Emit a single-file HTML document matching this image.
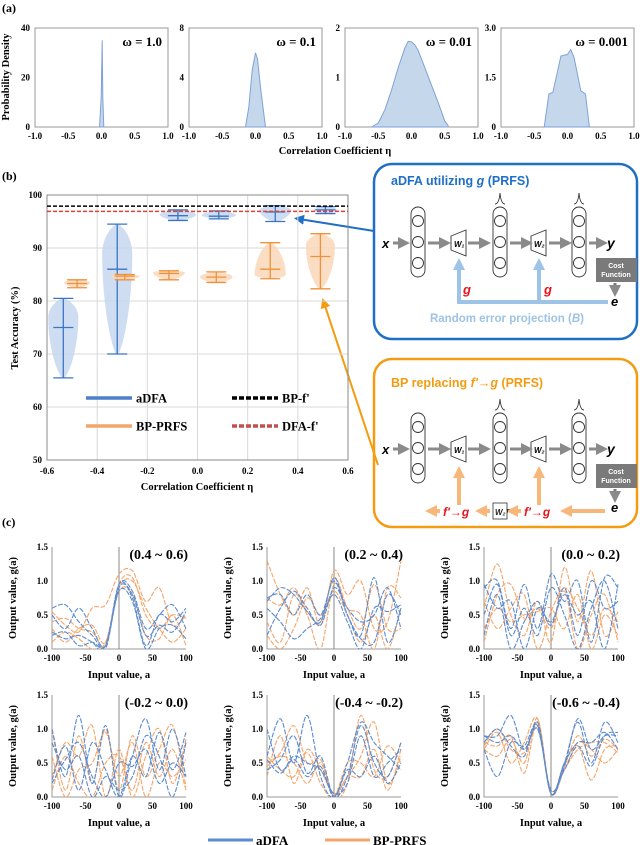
<!DOCTYPE html>
<html><head><meta charset="utf-8"><style>
html,body{margin:0;padding:0;background:#fff;}
svg{display:block;}
.serif{font-family:"Liberation Serif",serif;font-weight:bold;}
.sans{font-family:"Liberation Sans",sans-serif;font-weight:bold;}
</style></head><body>
<svg id="fig" width="640" height="845" viewBox="0 0 640 845" xmlns="http://www.w3.org/2000/svg">
<defs>
<marker id="ah-gray" markerWidth="4" markerHeight="4" refX="2" refY="2" orient="auto" markerUnits="strokeWidth"><path d="M0,0 L4,2 L0,4 z" fill="#8a8a8a"/></marker>
<marker id="ah-lblue" markerWidth="3" markerHeight="3" refX="1.5" refY="1.5" orient="auto" markerUnits="strokeWidth"><path d="M0,0 L3,1.5 L0,3 z" fill="#9dc3e6"/></marker>
<marker id="ah-lor" markerWidth="3" markerHeight="3" refX="1.5" refY="1.5" orient="auto" markerUnits="strokeWidth"><path d="M0,0 L3,1.5 L0,3 z" fill="#f8b77a"/></marker>
<marker id="ah-blue" markerWidth="5" markerHeight="5" refX="4" refY="2.5" orient="auto" markerUnits="strokeWidth"><path d="M0,0 L5,2.5 L0,5 z" fill="#1f6fc5"/></marker>
<marker id="ah-or" markerWidth="5" markerHeight="5" refX="4" refY="2.5" orient="auto" markerUnits="strokeWidth"><path d="M0,0 L5,2.5 L0,5 z" fill="#f39c12"/></marker>
</defs>
<g class="serif" font-size="12">
<text x="2" y="12">(a)</text>
<text x="2" y="180">(b)</text>
<text x="2" y="526">(c)</text>
</g>

<g>
<rect x="374" y="164" width="263" height="175" rx="18" fill="none" stroke="#1f6fc5" stroke-width="2.5"/>
<text x="391" y="185" class="sans" font-size="12.5" fill="#1f6fc5">aDFA utilizing <tspan font-style="italic">g</tspan> (PRFS)</text>
<g id="netA"></g>
<polyline points="608,302 459,302 459,264" fill="none" stroke="#9dc3e6" stroke-width="4" marker-end="url(#ah-lblue)"/>
<line x1="539" y1="302" x2="539" y2="264" stroke="#9dc3e6" stroke-width="4" marker-end="url(#ah-lblue)"/>
<text x="463" y="294" class="sans" font-style="italic" font-size="13" fill="#e8141c">g</text>
<text x="544" y="294" class="sans" font-style="italic" font-size="13" fill="#e8141c">g</text>
<text x="507" y="322" text-anchor="middle" class="sans" font-size="11.5" fill="#9dc3e6">Random error projection (<tspan font-style="italic">B</tspan>)</text>
</g>
<g>
<rect x="374" y="359" width="263" height="168" rx="18" fill="none" stroke="#f39c12" stroke-width="2.5"/>
<text x="391" y="387" class="sans" font-size="12.5" fill="#f39c12">BP replacing <tspan font-style="italic">f'</tspan>→<tspan font-style="italic">g</tspan> (PRFS)</text>
<g id="netB"></g>
<line x1="459" y1="505" x2="459" y2="472" stroke="#f8b77a" stroke-width="4" marker-end="url(#ah-lor)"/>
<line x1="539" y1="505" x2="539" y2="472" stroke="#f8b77a" stroke-width="4" marker-end="url(#ah-lor)"/>
<line x1="605" y1="511" x2="566" y2="511" stroke="#f8b77a" stroke-width="4" marker-end="url(#ah-lor)"/>
<text x="524" y="516" class="sans" font-style="italic" font-size="12" fill="#e8141c">f'→g</text>
<line x1="521" y1="511" x2="512" y2="511" stroke="#f8b77a" stroke-width="4" marker-end="url(#ah-lor)"/>
<rect x="493" y="503" width="14" height="16" fill="#fff" stroke="#333" stroke-width="0.8"/>
<text x="495" y="515" class="sans" font-style="italic" font-size="8" fill="#222">W₂ᵀ</text>
<line x1="490" y1="511" x2="481" y2="511" stroke="#f8b77a" stroke-width="4" marker-end="url(#ah-lor)"/>
<text x="443" y="516" class="sans" font-style="italic" font-size="12" fill="#e8141c">f'→g</text>
<line x1="440" y1="511" x2="431" y2="511" stroke="#f8b77a" stroke-width="4" marker-end="url(#ah-lor)"/>
</g>
<line x1="374" y1="231" x2="296" y2="218.5" stroke="#1f6fc5" stroke-width="2" marker-end="url(#ah-blue)"/>
<line x1="378" y1="465" x2="323" y2="300" stroke="#f39c12" stroke-width="2" marker-end="url(#ah-or)"/>
</svg>
<script>
const NS="http://www.w3.org/2000/svg";
const svg=document.getElementById('fig');
function mk(tag,attrs,parent){const e=document.createElementNS(NS,tag);for(const k in attrs)e.setAttribute(k,attrs[k]);(parent||svg).appendChild(e);return e;}

/* ---------- Panel (a) data ---------- */
const densTitles=["ω = 1.0","ω = 0.1","ω = 0.01","ω = 0.001"];
const densYMax=[40,8,2,3.0];
const densYTicks=[["0","20","40"],["0","4","8"],["0","1","2"],["0","1.5","3.0"]];
const densX1=[-0.03,-0.005,0.01,0.02,0.035];
const densY1=[0,12,35,12,0];
const densX2=[-0.15,-0.1,-0.05,0,0.03,0.08,0.15];
const densY2=[0,1.6,4.6,6,5.5,3,0];
const densX3=[-0.6,-0.5,-0.4,-0.3,-0.2,-0.1,-0.05,0,0.05,0.1,0.2,0.3,0.4,0.5,0.55];
const densY3=[0,0.08,0.35,0.75,1.2,1.6,1.73,1.72,1.66,1.55,1.2,0.85,0.5,0.12,0.03];
const densX4=[-0.35,-0.28,-0.22,-0.1,0,0.05,0.1,0.2,0.27,0.33];
const densY4=[0,1.0,1.05,2.15,2.2,2.35,2.1,1.1,1.0,0];
const densXTicks=["-1.0","-0.5","0.0","0.5","1.0"];

const dX=[densX1,densX2,densX3,densX4], dY=[densY1,densY2,densY3,densY4];
const aLefts=[35,189,345,501], aW=133, aTop=28, aBot=127;
for(let p=0;p<4;p++){
  const L=aLefts[p];
  const sx=v=>L+(v+1)/2*aW, sy=v=>aBot-(v/densYMax[p])*(aBot-aTop);
  const g=mk('g',{});
  
  
  const fr=mk('rect',{x:L,y:aTop,width:aW,height:aBot-aTop,fill:'none',stroke:'#999','stroke-width':1},g);
  
  
  let d='M'+sx(dX[p][0])+','+sy(0);
  for(let i=0;i<dX[p].length;i++) d+=' L'+sx(dX[p][i]).toFixed(1)+','+sy(dY[p][i]).toFixed(1);
  d+=' L'+sx(dX[p][dX[p].length-1])+','+sy(0)+'Z';
  const ar=mk('path',{d:d,fill:'#c5d7ea',stroke:'#7fa2d6','stroke-width':1},g);
  
  
  for(let i=0;i<3;i++){
    const t=mk('text',{x:L-5,y:aBot-i*(aBot-aTop)/2+3,'text-anchor':'end','font-size':9,class:'serif'},g);
    t.textContent=densYTicks[p][i];
    
    
  }
  for(let i=0;i<5;i++){
    const v=-1+i*0.5;
    const t=mk('text',{x:sx(v),y:139,'text-anchor':'middle','font-size':9,class:'serif'},g);
    t.textContent=densXTicks[i];
    
    
  }
  const tt=mk('text',{x:L+aW-6,y:46,'text-anchor':'end','font-size':13,class:'serif'},g);
  tt.textContent=densTitles[p];
  
  
}
let t0=mk('text',{x:9,y:77,'text-anchor':'middle','font-size':10.5,class:'serif',transform:'rotate(-90 9 77)'});
t0.textContent='Probability Density';


t0=mk('text',{x:335,y:154,'text-anchor':'middle','font-size':10.5,class:'serif'});
t0.textContent='Correlation Coefficient η';



/* ---------- Panel (b) data ---------- */
const adfaPos=[-0.535,-0.32,-0.078,0.085,0.31,0.51];
const adfaMin=[65.5,70,95.2,95.5,95,96.5];
const adfaMax=[80.5,94.5,97.2,97,98,97.8];
const adfaMean=[75,86,96.1,96,96.8,97.2];
const adfaPeak=[77,89,96.3,96.2,97.2,97.2];
const adfaHalfW=[0.06,0.06,0.072,0.068,0.063,0.047];
const bpPos=[-0.48,-0.29,-0.114,0.075,0.29,0.49];
const bpMin=[82.5,84,84,83.5,84.2,82.3];
const bpMax=[84,85,85.7,85.5,91,92.7];
const bpMean=[83.3,84.7,85.2,84.5,86,88.4];
const bpPeak=[83.5,84.7,85.4,84.5,84.9,90.5];
const bpHalfW=[0.052,0.06,0.063,0.065,0.062,0.058];
const bpfRef=97.9, dfafRef=96.9;
const accYTicks=["50","60","70","80","90","100"];
const accXTicks=["-0.6","-0.4","-0.2","0.0","0.2","0.4","0.6"];

const bL=47,bR=348,bT=195,bB=460;
const bx=v=>bL+(v+0.6)/1.2*(bR-bL), by=v=>bB-(v-50)/50*(bB-bT);
const gb=mk('g',{});


for(let i=0;i<6;i++){
  const v=50+i*10;
  const gl=mk('line',{x1:bL,x2:bR,y1:by(v),y2:by(v),stroke:'#d9d9d9','stroke-width':1},gb);
  
  
  const t=mk('text',{x:bL-5,y:by(v)+3,'text-anchor':'end','font-size':9,class:'serif'},gb);
  t.textContent=accYTicks[i];
  
  
}
for(let i=0;i<7;i++){
  const v=-0.6+i*0.2;
  const gl=mk('line',{x1:bx(v),x2:bx(v),y1:bT,y2:bB,stroke:'#d9d9d9','stroke-width':1},gb);
  
  
  const t=mk('text',{x:bx(v),y:bB+14,'text-anchor':'middle','font-size':9,class:'serif'},gb);
  t.textContent=accXTicks[i];
  
  
}
const bfr=mk('rect',{x:bL,y:bT,width:bR-bL,height:bB-bT,fill:'none',stroke:'#888','stroke-width':1},gb);


function violin(pos,mn,mx,mean,peak,hw,fill,stroke,name){
  const pts=[];const N=24;
  for(let i=0;i<=N;i++){
    const v=mn+(mx-mn)*i/N;
    let t= v<=peak ? (v-mn)/Math.max(peak-mn,1e-6) : (mx-v)/Math.max(mx-peak,1e-6);
    t=Math.max(0,Math.min(1,t));
    const w=hw*Math.pow(Math.sin(Math.PI/2*t),0.6);
    pts.push([v,Math.max(w,hw*0.12)]);
  }
  let d='M'+bx(pos-pts[0][1]).toFixed(1)+','+by(pts[0][0]).toFixed(1);
  pts.forEach(p=>d+=' L'+bx(pos-p[1]).toFixed(1)+','+by(p[0]).toFixed(1));
  for(let i=pts.length-1;i>=0;i--) d+=' L'+bx(pos+pts[i][1]).toFixed(1)+','+by(pts[i][0]).toFixed(1);
  d+='Z';
  const g=mk('g',{},gb);
  
  
  const body=mk('path',{d:d,fill:fill,opacity:0.85},g);
  
  
  const cw=0.04;
  const ln=mk('line',{x1:bx(pos),x2:bx(pos),y1:by(mn),y2:by(mx),stroke:stroke,'stroke-width':1.3},g);
  
  
  [mn,mx,mean].forEach(v=>{
    const c=mk('line',{x1:bx(pos-cw),x2:bx(pos+cw),y1:by(v),y2:by(v),stroke:stroke,'stroke-width':1.3},g);
    
    
  });
}
for(let i=0;i<6;i++) violin(adfaPos[i],adfaMin[i],adfaMax[i],adfaMean[i],adfaPeak[i],adfaHalfW[i],'#c6d7ef','#3a75c4','adfa-violin-'+(i+1));
for(let i=0;i<6;i++) violin(bpPos[i],bpMin[i],bpMax[i],bpMean[i],bpPeak[i],bpHalfW[i],'#fad7b8','#f0913a','bp-prfs-violin-'+(i+1));
let rl=mk('line',{x1:bL,x2:bR,y1:by(bpfRef),y2:by(bpfRef),stroke:'#000','stroke-width':1.5,'stroke-dasharray':'4,2'},gb);


rl=mk('line',{x1:bL,x2:bR,y1:by(dfafRef),y2:by(dfafRef),stroke:'#e0403a','stroke-width':1.5,'stroke-dasharray':'4,2'},gb);


const legItems=[[86,398,'#4d7fcc',null,'aDFA'],[232,398,'#000','5,2',"BP-f'"],[86,426,'#f4a56a',null,'BP-PRFS'],[232,426,'#c0504d','5,2',"DFA-f'"]];
legItems.forEach(it=>{
  const l=mk('line',{x1:it[0],x2:it[0]+46,y1:it[1],y2:it[1],stroke:it[2],'stroke-width':3.5},gb);
  if(it[3]) l.setAttribute('stroke-dasharray',it[3]);
  
  
  const t=mk('text',{x:it[0]+50,y:it[1]+4.5,'font-size':12.5,class:'serif'},gb);
  t.textContent=it[4];
  
  
});
t0=mk('text',{x:18,y:328,'text-anchor':'middle','font-size':10.5,class:'serif',transform:'rotate(-90 18 328)'});
t0.textContent='Test Accuracy (%)';


t0=mk('text',{x:197,y:490,'text-anchor':'middle','font-size':10.5,class:'serif'});
t0.textContent='Correlation Coefficient η';



/* ---------- Network diagrams ---------- */
function net(gid,dy){
  const g=document.getElementById(gid);
  const cols=[418,500,579];
  cols.forEach((cx,i)=>{
    const r=mk('rect',{x:cx-7,y:207+dy,width:14,height:70,rx:7,fill:'#fff',stroke:'#333','stroke-width':0.9},g);
    
    
    [221,242,263].forEach(cy=>{
      const c=mk('circle',{cx:cx,cy:cy+dy,r:5.5,fill:'#fff',stroke:'#333','stroke-width':0.9},g);
      
      
    });
    if(i>0){
      const s=mk('path',{d:`M${cx-5},${204+dy} Q${cx-1},${204+dy} ${cx},${193+dy} Q${cx+1},${204+dy} ${cx+5},${204+dy}`,fill:'none',stroke:'#333','stroke-width':0.9},g);
      
      
    }
  });
  [[451,'W₁'],[531,'W₂']].forEach(w=>{
    const p=mk('path',{d:`M${w[0]},${236+dy} L${w[0]+15},${230+dy} L${w[0]+15},${256+dy} L${w[0]},${250+dy}Z`,fill:'#fff',stroke:'#333','stroke-width':0.9},g);
    
    
    const t=mk('text',{x:w[0]+3,y:247+dy,'font-size':8,class:'sans','font-style':'italic'},g);
    t.textContent=w[1];
    
    
  });
  [[393,404],[428,445],[468,485],[510,527],[549,566],[589,602]].forEach(a=>{
    const l=mk('line',{x1:a[0],x2:a[1],y1:243+dy,y2:243+dy,stroke:'#8a8a8a','stroke-width':3,'marker-end':'url(#ah-gray)'},g);
    
    
  });
  let t=mk('text',{x:382,y:248+dy,'font-size':13,class:'sans','font-style':'italic'},g);
  t.textContent='x';
  
  
  t=mk('text',{x:607,y:248+dy,'font-size':14,class:'sans','font-style':'italic'},g);
  t.textContent='y';
  
  
  const cb=mk('rect',{x:596,y:258+dy,width:41,height:24,fill:'#7a7a7a'},g);
  
  
  t=mk('text',{x:616,y:268+dy,'text-anchor':'middle','font-size':7,class:'sans',fill:'#fff'},g);
  t.textContent='Cost';
  
  
  t=mk('text',{x:616,y:277+dy,'text-anchor':'middle','font-size':7,class:'sans',fill:'#fff'},g);
  t.textContent='Function';
  
  
  const ca=mk('line',{x1:615,x2:615,y1:283+dy,y2:291+dy,stroke:'#7a7a7a','stroke-width':3,'marker-end':'url(#ah-gray)'},g);
  
  
  t=mk('text',{x:611,y:306+dy,'font-size':13,class:'sans','font-style':'italic'},g);
  t.textContent='e';
  
  
}
net('netA',0);
net('netB',206);

/* ---------- Panel (c) data: g(a) sampled at a = -100,-80,...,100 ---------- */
const gaX=[-100,-80,-60,-40,-20,0,20,40,60,80,100];
const panelTitles=["(0.4 ~ 0.6)","(0.2 ~ 0.4)","(0.0 ~ 0.2)","(-0.2 ~ 0.0)","(-0.4 ~ -0.2)","(-0.6 ~ -0.4)"];
const gaYTicks=["0.0","0.5","1.0","1.5"];
const gaXTicks=["-100","-50","0","50","100"];
const blue1=[[0.6,0.65,0.4,0.2,0.05,0.95,0.75,0.05,0.5,0.4,0.6],[0.25,0.15,0.2,0.1,0.0,0.9,0.8,0.2,0.35,0.25,0.55],[0.5,0.3,0.6,0.3,0.05,0.95,0.85,0.3,0.5,0.65,0.3],[0.2,0.25,0.05,0.1,0.05,0.85,0.7,0.0,0.3,0.35,0.15]];
const orange1=[[0.55,0.35,0.25,0.6,0.65,1.1,1.15,0.7,0.9,0.35,0.5],[0.4,0.45,0.3,0.25,0.05,0.9,1.0,0.6,0.3,0.1,0.3],[0.1,0.25,0.15,0.0,0.1,0.85,0.8,0.2,0.15,0.5,0.05],[0.3,0.1,0.3,0.35,0.1,0.95,1.05,0.5,0.3,0.5,0.45]];
const blue2=[[0.7,0.9,0.8,0.55,0.4,1.05,0.5,0.2,1.05,0.1,0.6],[0.2,0.6,0.85,0.6,0.35,0.9,0.6,0.4,0.5,0.9,0.3],[0.6,0.4,0.15,0.3,0.45,0.8,0.4,0.0,0.6,0.55,0.65],[0.75,0.8,0.5,0.8,0.5,1.0,0.5,0.15,0.1,0.8,0.5]];
const orange2=[[1.3,0.8,0.5,0.9,0.35,1.15,0.8,1.0,0.3,0.4,1.3],[0.4,0.1,0.8,0.5,0.0,0.95,0.6,0.5,0.0,0.9,0.75],[0.75,0.65,0.9,0.55,0.4,1.05,0.6,0.3,0.95,0.3,0.3],[0.2,0.0,0.3,0.75,0.5,0.85,0.5,0.1,0.5,0.0,0.6]];
const blue3=[[0.9,1.0,0.3,0.95,0.3,1.1,0.7,1.0,0.1,1.05,0.9],[0.2,0.8,0.0,0.4,0.7,0.35,0.9,0.2,1.0,0.6,0.7],[0.95,0.6,0.7,0.0,0.6,0.4,0.8,0.5,0.7,0.0,0.95],[0.5,0.95,0.2,0.6,0.2,0.9,0.5,0.0,0.6,1.0,0.3]];
const orange3=[[0.6,1.25,0.5,0.2,0.7,0.1,1.2,0.4,1.15,0.2,0.55],[0.1,0.8,0.95,0.45,0.6,0.3,0.85,0.0,0.5,0.8,0.1],[0.7,0.3,0.6,0.8,0.0,0.55,0.9,0.6,0.2,0.6,0.4],[0.3,0.6,0.4,0.5,0.55,0.6,0.3,0.8,0.0,0.5,0.2]];
const blue4=[[1.0,0.3,1.2,0.2,1.05,0.0,0.6,1.15,0.4,1.0,0.3],[0.25,0.75,0.1,0.8,0.4,0.0,0.6,0.3,0.95,0.4,0.95],[0.8,0.4,0.6,0.0,0.3,0.1,0.3,0.9,0.6,0.0,0.8],[0.2,0.55,0.8,0.3,0.0,0.5,0.45,0.7,0.2,0.5,0.3]];
const orange4=[[1.0,0.1,0.9,0.2,1.0,0.1,0.9,0.3,0.7,1.05,0.15],[0.3,0.8,0.6,1.05,0.0,0.7,0.0,0.6,1.0,0.2,0.85],[0.6,0.0,0.4,0.5,0.95,0.3,0.8,0.0,0.5,0.3,0.55],[0.1,0.6,0.2,0.0,0.5,0.6,0.1,0.8,0.3,0.7,0.1]];
const blue5=[[0.6,1.15,0.5,1.2,0.3,0.0,0.5,1.1,0.8,0.6,0.4],[0.4,0.55,0.9,0.35,0.6,0.0,0.3,1.05,0.5,0.3,0.8],[0.55,0.35,0.55,0.3,0.45,0.0,0.4,0.3,0.6,0.2,0.5],[1.0,0.4,0.6,0.5,0.4,0.05,0.2,0.9,0.3,0.5,0.7]];
const orange5=[[0.5,0.65,1.05,0.5,0.55,0.0,0.2,1.2,0.4,0.3,0.8],[0.3,0.9,0.2,0.7,0.4,0.05,0.3,0.6,1.1,0.2,0.6],[0.6,0.4,0.3,0.65,0.2,0.0,0.5,0.5,0.3,0.75,0.5],[0.45,0.6,0.5,0.2,0.5,0.0,0.3,0.3,0.7,0.1,0.7]];
const blue6=[[0.9,0.9,1.2,0.7,1.05,0.05,0.5,1.1,0.5,1.1,0.8],[0.7,0.3,0.8,0.75,1.05,0.05,0.45,1.15,0.7,0.9,0.9],[0.8,1.0,0.75,0.6,1.1,0.05,0.5,0.8,0.8,0.95,0.7],[0.9,0.8,0.9,0.7,1.0,0.1,0.4,0.75,0.45,0.9,0.95]];
const orange6=[[0.7,0.95,0.5,0.8,1.15,0.05,0.45,0.9,0.6,0.85,0.7],[0.8,0.75,0.9,0.35,1.1,0.05,0.5,0.75,0.25,0.7,0.75],[0.75,1.0,0.7,0.65,1.0,0.1,0.4,0.8,0.7,0.5,0.7],[0.7,0.6,0.85,0.5,1.15,0.05,0.4,0.7,0.8,0.8,0.65]];

const blues=[blue1,blue2,blue3,blue4,blue5,blue6], oranges=[orange1,orange2,orange3,orange4,orange5,orange6];
const cLefts=[52,267,484], cW=134, rowTops=[547,695], cH=102;
function smooth(pts){
  let d='M'+pts[0][0].toFixed(1)+','+pts[0][1].toFixed(1);
  for(let i=0;i<pts.length-1;i++){
    const p0=pts[i-1]||pts[i],p1=pts[i],p2=pts[i+1],p3=pts[i+2]||p2;
    const c1=[p1[0]+(p2[0]-p0[0])/6,p1[1]+(p2[1]-p0[1])/6];
    const c2=[p2[0]-(p3[0]-p1[0])/6,p2[1]-(p3[1]-p1[1])/6];
    d+=` C${c1[0].toFixed(1)},${c1[1].toFixed(1)} ${c2[0].toFixed(1)},${c2[1].toFixed(1)} ${p2[0].toFixed(1)},${p2[1].toFixed(1)}`;
  }
  return d;
}
for(let p=0;p<6;p++){
  const L=cLefts[p%3], T=rowTops[Math.floor(p/3)], B=T+cH;
  const sx=v=>L+(v+100)/200*cW, sy=v=>B-v/1.5*cH;
  const g=mk('g',{});
  
  
  const cp=mk('clipPath',{id:'clip'+p},g);
  mk('rect',{x:L,y:T-2,width:cW+2,height:cH+2},cp);
  const ax=mk('path',{d:`M${L},${T} L${L},${B} L${L+cW},${B}`,fill:'none',stroke:'#999','stroke-width':1},g);
  
  
  const zl=mk('line',{x1:sx(0),x2:sx(0),y1:T,y2:B,stroke:'#888','stroke-width':1},g);
  
  
  for(let i=0;i<4;i++){
    const t=mk('text',{x:L-4,y:sy(i*0.5)+3,'text-anchor':'end','font-size':9,class:'serif'},g);
    t.textContent=gaYTicks[i];
    
    
  }
  for(let i=0;i<5;i++){
    const t=mk('text',{x:sx(-100+i*50),y:B+12,'text-anchor':'middle','font-size':9,class:'serif'},g);
    t.textContent=gaXTicks[i];
    
    
  }
  const series=[[oranges[p],'#f4a56a'],[blues[p],'#5b8bd0']];
  series.forEach(s=>{
    s[0].forEach(arr=>{
      const pts=arr.map((v,i)=>[sx(gaX[i]),sy(v)]);
      const c=mk('path',{d:smooth(pts),fill:'none',stroke:s[1],'stroke-width':1.1,'stroke-dasharray':'5,1.5','clip-path':`url(#clip${p})`},g);
      
      
    });
  });
  const tt=mk('text',{x:L+cW+2,y:T+12,'text-anchor':'end','font-size':14,class:'serif'},g);
  tt.textContent=panelTitles[p];
  
  
  const yl=mk('text',{x:L-36,y:T+cH/2,'text-anchor':'middle','font-size':10.5,class:'serif',transform:`rotate(-90 ${L-36} ${T+cH/2})`},g);
  yl.textContent='Output value, g(a)';
  
  
  const xl=mk('text',{x:L+cW/2,y:B+29,'text-anchor':'middle','font-size':10.5,class:'serif'},g);
  xl.textContent='Input value, a';
  
  
}
[[208,'#5b8bd0','aDFA'],[325,'#f4a56a','BP-PRFS']].forEach(it=>{
  const l=mk('line',{x1:it[0],x2:it[0]+45,y1:840,y2:840,stroke:it[1],'stroke-width':3});
  
  
  const t=mk('text',{x:it[0]+48,y:845,'font-size':13,class:'serif'});
  t.textContent=it[2];
  
  
});
</script>
</body></html>
